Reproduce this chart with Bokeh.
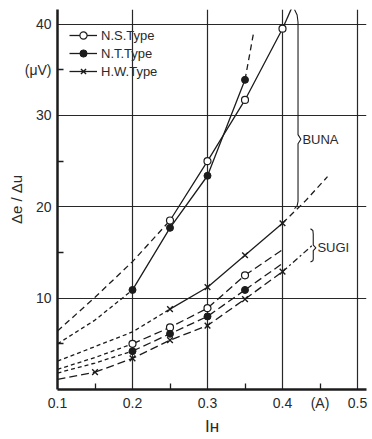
from bokeh.plotting import figure
from bokeh.models import Label, Legend, LegendItem, FixedTicker, Range1d
from bokeh.embed import file_html
from bokeh.resources import INLINE

# ---------------- data ----------------
# BUNA (upper group)
ns_buna_x = [0.25, 0.30, 0.35, 0.40]
ns_buna_y = [18.5, 25.0, 31.7, 39.5]
ns_buna_lo_x = [0.10, 0.15, 0.20, 0.25]
ns_buna_lo_y = [6.4, 10.1, 14.0, 18.5]
ns_buna_hi_x = [0.40, 0.413]
ns_buna_hi_y = [39.5, 41.9]

nt_buna_x = [0.20, 0.25, 0.30, 0.35]
nt_buna_y = [10.9, 17.7, 23.4, 33.9]
nt_buna_lo_x = [0.10, 0.15, 0.20]
nt_buna_lo_y = [5.0, 7.6, 10.9]
nt_buna_hi_x = [0.35, 0.362]
nt_buna_hi_y = [33.9, 39.3]

hw_buna_x = [0.25, 0.30, 0.35, 0.40]
hw_buna_y = [8.8, 11.2, 14.7, 18.2]
hw_buna_lo_x = [0.10, 0.15, 0.20, 0.25]
hw_buna_lo_y = [3.1, 4.7, 6.3, 8.8]
hw_buna_hi_x = [0.40, 0.43, 0.46]
hw_buna_hi_y = [18.2, 20.6, 23.3]

# SUGI (lower group)
ns_sugi_x = [0.20, 0.25, 0.30, 0.35]
ns_sugi_y = [5.0, 6.8, 8.9, 12.5]
ns_sugi_lo_x = [0.10, 0.15, 0.20]
ns_sugi_lo_y = [2.2, 3.5, 5.0]
ns_sugi_hi_x = [0.35, 0.40]
ns_sugi_hi_y = [12.5, 15.3]

nt_sugi_x = [0.20, 0.25, 0.30, 0.35]
nt_sugi_y = [4.2, 6.1, 8.0, 10.9]
nt_sugi_lo_x = [0.10, 0.15, 0.20]
nt_sugi_lo_y = [1.8, 2.9, 4.2]
nt_sugi_hi_x = [0.35, 0.40]
nt_sugi_hi_y = [10.9, 13.8]

hw_sugi_x = [0.15, 0.20, 0.25, 0.30, 0.35, 0.40]
hw_sugi_y = [1.9, 3.4, 5.4, 7.0, 9.9, 12.9]
hw_sugi_lo_x = [0.10, 0.15]
hw_sugi_lo_y = [1.1, 1.9]
hw_sugi_hi_x = [0.40, 0.44]
hw_sugi_hi_y = [12.9, 15.8]

x_grid = [0.1, 0.2, 0.3, 0.4, 0.5]
x_labels = {0.45: "(A)"}
x_minor = [0.15, 0.25, 0.35, 0.45]
y_grid = [10, 20, 30, 40]
y_labels = {35: "(μV)"}
y_minor = [5, 15, 25, 35]
series_names = ["N.S.Type", "N.T.Type", "H.W.Type"]
x_title = "Iʜ"
y_title = "Δe / Δu"

# ---------------- styling ----------------
INK = "#1c1c1c"
TXT = "#2a2a2a"
FONT = "Liberation Sans"

p = figure(width=370, height=438, x_range=Range1d(0.1, 0.512), y_range=Range1d(0, 41.6),
           output_backend="svg", toolbar_location=None,
           min_border_left=57, min_border_right=4, min_border_top=9, min_border_bottom=41)
p.outline_line_color = None
p.background_fill_color = "white"

p.xaxis.ticker = FixedTicker(ticks=x_grid + list(x_labels.keys()), minor_ticks=x_minor)
p.xaxis.major_label_overrides = x_labels
p.yaxis.ticker = FixedTicker(ticks=y_grid + list(y_labels.keys()), minor_ticks=y_minor)
p.yaxis.major_label_overrides = y_labels
p.xgrid.ticker = FixedTicker(ticks=x_grid)
p.ygrid.ticker = FixedTicker(ticks=y_grid)

for ax in (p.xaxis[0], p.yaxis[0]):
    ax.axis_line_width = 2.5
    ax.axis_line_color = INK
    ax.major_tick_in = 0
    ax.major_tick_out = 0
    ax.minor_tick_in = 6
    ax.minor_tick_out = 0
    ax.minor_tick_line_color = INK
    ax.minor_tick_line_width = 1.3
    ax.major_label_text_font = FONT
    ax.major_label_text_font_size = "14px"
    ax.major_label_text_color = TXT
    ax.axis_label_text_font = FONT
    ax.axis_label_text_font_style = "normal"
    ax.axis_label_text_color = TXT
p.xaxis.major_label_standoff = 5
p.yaxis.major_label_standoff = 6
p.xaxis.axis_label = x_title
p.xaxis.axis_label_text_font_size = "17px"
p.xaxis.axis_label_standoff = 3
p.yaxis.axis_label = y_title
p.yaxis.axis_label_text_font_size = "15px"
p.yaxis.axis_label_standoff = -3

p.grid.grid_line_color = INK
p.grid.grid_line_width = 1.2
p.grid.grid_line_alpha = 0.95

LW = 1.3
SOLID = "solid"
LONG = "8 4"
SHORT = "4 3"
MID = "6 4"

def ln(x, y, dash):
    return p.line(x, y, line_color=INK, line_width=LW, line_dash=dash)

# BUNA curves
r_ns = ln(ns_buna_x, ns_buna_y, SOLID)
ln(ns_buna_lo_x, ns_buna_lo_y, MID)
ln(ns_buna_hi_x, ns_buna_hi_y, SOLID)
r_nt = ln(nt_buna_x, nt_buna_y, SOLID)
ln(nt_buna_lo_x, nt_buna_lo_y, SHORT)
ln(nt_buna_hi_x, nt_buna_hi_y, MID)
r_hw = ln(hw_buna_x, hw_buna_y, SOLID)
ln(hw_buna_lo_x, hw_buna_lo_y, SHORT)
ln(hw_buna_hi_x, hw_buna_hi_y, MID)

# SUGI curves
ln(ns_sugi_x, ns_sugi_y, LONG)
ln(ns_sugi_lo_x, ns_sugi_lo_y, SHORT)
ln(ns_sugi_hi_x, ns_sugi_hi_y, LONG)
ln(nt_sugi_x, nt_sugi_y, LONG)
ln(nt_sugi_lo_x, nt_sugi_lo_y, SHORT)
ln(nt_sugi_hi_x, nt_sugi_hi_y, LONG)
ln(hw_sugi_x, hw_sugi_y, LONG)
ln(hw_sugi_lo_x, hw_sugi_lo_y, LONG)
ln(hw_sugi_hi_x, hw_sugi_hi_y, "6 3 2 3")

# markers
def open_c(x, y):
    return p.scatter(x, y, marker="circle", size=7, fill_color="white", line_color=INK, line_width=1.2)

def fill_c(x, y):
    return p.scatter(x, y, marker="circle", size=7, fill_color=INK, line_color=INK, line_width=1)

def cross(x, y):
    return p.scatter(x, y, marker="x", size=8, line_color=INK, line_width=1.4)

m_ns = open_c(ns_buna_x, ns_buna_y)
m_nt = fill_c(nt_buna_x, nt_buna_y)
m_hw = cross(hw_buna_x, hw_buna_y)
open_c(ns_sugi_x, ns_sugi_y)
fill_c(nt_sugi_x, nt_sugi_y)
cross(hw_sugi_x, hw_sugi_y)

legend = Legend(items=[LegendItem(label=series_names[0], renderers=[r_ns, m_ns]),
                       LegendItem(label=series_names[1], renderers=[r_nt, m_nt]),
                       LegendItem(label=series_names[2], renderers=[r_hw, m_hw])],
                location=(12, 309), border_line_color=None, background_fill_alpha=0,
                padding=0, margin=0, spacing=0, label_height=18, glyph_height=18,
                glyph_width=28, label_standoff=4, label_text_font=FONT,
                label_text_font_size="13px", label_text_color=TXT)
p.add_layout(legend)

# brackets
p.line([0.416, 0.4195, 0.4207, 0.4207, 0.4245, 0.4207, 0.4207, 0.4195, 0.416],
       [41.6, 41.0, 40.2, 27.9, 27.4, 26.9, 20.6, 20.1, 19.8],
       line_color=INK, line_width=1.1)
p.line([0.4373, 0.4405, 0.441, 0.441, 0.4445, 0.441, 0.441, 0.4405, 0.4373],
       [17.6, 17.4, 17.0, 15.8, 15.5, 15.2, 14.3, 14.1, 13.95],
       line_color=INK, line_width=1.1)

def lab(x, y, t, size, **kw):
    p.add_layout(Label(x=x, y=y, text=t, text_font=FONT, text_font_size=size,
                       text_color=TXT, **kw))

lab(0.4265, 27.4, "BUNA", "13px", text_baseline="middle")
lab(0.4465, 15.5, "SUGI", "13px", text_baseline="middle")

open("out.html", "w").write(file_html(p, INLINE))
